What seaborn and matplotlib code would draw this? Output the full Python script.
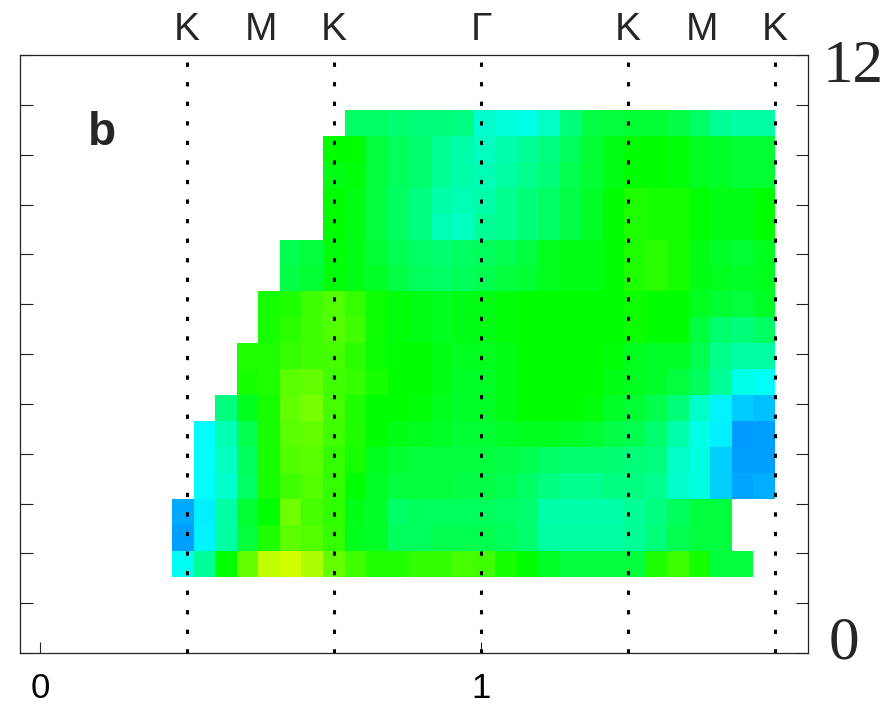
import numpy as np
import pandas as pd
import seaborn as sns
import matplotlib
matplotlib.use('Agg')
import matplotlib.pyplot as plt
from matplotlib.colors import LinearSegmentedColormap
from matplotlib.transforms import Affine2D

nan = np.nan

# intensity per cell, one list per energy row (top row first), 28 k-columns
row17 = [nan]*8 + [1.61, 1.61, 1.57, 1.53, 1.53, 1.49, 1.2, 1.14, 1.1, 1.22, 1.53, 1.73, 1.76, 1.8, 1.8, 1.73, 1.61, 1.41, 1.37, 1.37]
row16 = [nan]*7 + [2.0, 2.0, 1.76, 1.65, 1.57, 1.41, 1.33, 1.25, 1.33, 1.41, 1.49, 1.65, 1.8, 1.92, 2.0, 2.0, 1.96, 1.88, 1.84, 1.8, 1.8]
row15 = [nan]*7 + [1.92, 1.96, 1.76, 1.65, 1.57, 1.41, 1.33, 1.29, 1.37, 1.45, 1.53, 1.69, 1.8, 1.92, 2.0, 2.0, 1.96, 1.88, 1.84, 1.8, 1.8]
row14 = [nan]*7 + [2.0, 1.92, 1.76, 1.61, 1.49, 1.33, 1.29, 1.33, 1.45, 1.53, 1.61, 1.73, 1.84, 2.0, 2.12, 2.08, 2.08, 2.0, 1.92, 1.92, 2.0]
row13 = [nan]*7 + [2.0, 1.92, 1.76, 1.61, 1.49, 1.29, 1.25, 1.41, 1.45, 1.53, 1.61, 1.73, 1.84, 2.0, 2.12, 2.08, 2.08, 2.0, 1.92, 1.92, 2.0]
row12 = [nan]*5 + [1.69, 1.76, 1.96, 1.92, 1.8, 1.69, 1.61, 1.57, 1.61, 1.65, 1.69, 1.76, 1.88, 1.92, 1.92, 2.0, 2.12, 2.16, 2.08, 1.92, 1.84, 1.8, 1.88]
row11 = [nan]*5 + [1.73, 1.8, 1.96, 1.92, 1.84, 1.73, 1.65, 1.61, 1.65, 1.69, 1.76, 1.8, 1.88, 1.92, 1.92, 2.0, 2.12, 2.16, 2.08, 1.92, 1.88, 1.84, 1.88]
row10 = [nan]*4 + [2.08, 2.12, 2.24, 2.31, 2.2, 2.04, 1.96, 1.92, 1.88, 1.92, 1.92, 1.96, 2.0, 2.0, 2.0, 2.0, 2.0, 2.04, 2.0, 2.0, 1.88, 1.8, 1.76, 1.84]
row9 = [nan]*4 + [2.08, 2.16, 2.24, 2.31, 2.24, 2.04, 1.96, 1.92, 1.88, 1.92, 1.92, 1.96, 2.0, 2.0, 2.0, 2.0, 2.0, 2.04, 2.0, 2.0, 1.76, 1.57, 1.53, 1.61]
row8 = [nan]*3 + [2.12, 2.12, 2.2, 2.24, 2.27, 2.16, 2.04, 2.0, 2.0, 1.92, 1.88, 1.88, 1.92, 2.0, 2.0, 2.0, 2.0, 1.96, 1.88, 1.84, 1.84, 1.69, 1.45, 1.37, 1.37]
row7 = [nan]*3 + [2.08, 2.12, 2.35, 2.39, 2.24, 2.2, 2.08, 2.0, 2.0, 1.92, 1.84, 1.84, 1.92, 2.0, 2.0, 2.0, 2.0, 1.92, 1.88, 1.84, 1.76, 1.65, 1.41, 1.1, 1.02]
row6 = [nan]*2 + [1.49, 1.88, 2.08, 2.39, 2.47, 2.27, 2.12, 2.0, 2.0, 1.96, 1.88, 1.84, 1.84, 1.92, 2.0, 2.0, 2.0, 1.96, 1.84, 1.8, 1.69, 1.53, 1.22, 0.95, 0.8, 0.75]
row5 = [nan] + [1.0, 1.3, 1.69, 2.08, 2.35, 2.39, 2.24, 2.12, 2.0, 1.92, 1.88, 1.84, 1.8, 1.8, 1.84, 1.88, 1.88, 1.84, 1.8, 1.73, 1.69, 1.57, 1.33, 1.1, 0.94, 0.6, 0.63]
row4 = [nan] + [1.0, 1.25, 1.65, 2.08, 2.31, 2.35, 2.2, 2.08, 1.88, 1.8, 1.76, 1.76, 1.76, 1.76, 1.73, 1.69, 1.61, 1.57, 1.57, 1.55, 1.53, 1.49, 1.22, 1.12, 0.82, 0.63, 0.63]
row3 = [nan] + [1.0, 1.2, 1.61, 2.08, 2.24, 2.31, 2.2, 2.0, 1.84, 1.76, 1.76, 1.76, 1.73, 1.73, 1.69, 1.61, 1.49, 1.45, 1.45, 1.49, 1.49, 1.45, 1.2, 1.12, 0.82, 0.65, 0.68]
row2 = [0.67, 0.94, 1.35, 1.8, 2.0, 2.43, 2.27, 2.18, 1.9, 1.84, 1.6, 1.65, 1.65, 1.65, 1.65, 1.61, 1.57, 1.33, 1.33, 1.33, 1.33, 1.41, 1.49, 1.65, 1.76, 1.76] + [nan]*2
row1 = [0.63, 0.96, 1.37, 1.76, 2.12, 2.35, 2.31, 2.2, 1.88, 1.84, 1.65, 1.65, 1.69, 1.69, 1.69, 1.65, 1.57, 1.37, 1.37, 1.37, 1.37, 1.41, 1.53, 1.69, 1.76, 1.76] + [nan]*2
row0 = [1.05, 1.41, 2.0, 2.39, 2.75, 2.82, 2.67, 2.39, 2.24, 2.12, 2.12, 2.2, 2.2, 2.27, 2.24, 2.08, 2.0, 1.84, 1.76, 1.76, 1.76, 1.76, 2.1, 2.24, 2.08, 1.76, 1.76] + [nan]

# grid extent in data units (k along path, energy)
k_first, k_last = 0.3, 5 / 3
e_low, e_high = 1.53, 10.9

# symmetry points along the path
kpt_labels = ['K', 'M', 'K', 'Γ', 'K', 'M', 'K']
kpt_pos = [1 / 3, 1 / 2, 2 / 3, 1.0, 4 / 3, 3 / 2, 5 / 3]
kline_pos = [1 / 3, 2 / 3, 1.0, 4 / 3, 5 / 3]

rows = [row17, row16, row15, row14, row13, row12, row11, row10, row9,
        row8, row7, row6, row5, row4, row3, row2, row1, row0]
grid = pd.DataFrame(np.array(rows, dtype=float))
n_e, n_k = grid.shape
dk = (k_last - k_first) / n_k
de = (e_high - e_low) / n_e

sns.set_style('white')
plt.rcParams['font.family'] = ['Liberation Sans Narrow', 'Liberation Sans', 'DejaVu Sans']

cmap = LinearSegmentedColormap.from_list('rainbow', ['#0000ff', '#00ffff', '#00ff00', '#ffff00'])

fig = plt.figure(figsize=(8.96, 7.08), dpi=100)
ax = fig.add_axes([20 / 896, 55 / 708, 788 / 896, 598 / 708])

sns.heatmap(grid, ax=ax, cmap=cmap, vmin=0, vmax=3, cbar=False,
            xticklabels=False, yticklabels=False)
# put the heatmap cells onto the k / energy data axes
mesh = ax.collections[0]
mesh.set_transform(Affine2D().scale(dk, -de).translate(k_first, e_high) + ax.transData)

ax.set_xlim(-20 / 441, 768 / 441)
ax.set_ylim(0, 12)

for s in ax.spines.values():
    s.set_visible(True)
    s.set_color('#222222')
    s.set_linewidth(0.9)

for pos in kline_pos:
    ax.axvline(pos, color='black', linestyle=(0, (1.4, 5.0)), linewidth=2.2, zorder=5)

ax.set_xticks([0, 1], ['0', '1'])
ax.tick_params(axis='x', direction='in', length=8, width=0.8, pad=14,
               labelsize=25, bottom=True, top=False, colors='#222222', labelcolor='black')
ax.set_yticks(np.arange(0, 13))
ax.tick_params(axis='y', direction='in', length=9, width=0.8, left=True, right=True,
               labelleft=False, labelright=False, colors='#222222')

xtrans = ax.get_xaxis_transform()
for lab, pos in zip(kpt_labels, kpt_pos):
    ax.text(pos, 1.042, lab, transform=xtrans, ha='center', va='center', fontsize=28)

ax.text(1.018, 11.75, '12', transform=ax.get_yaxis_transform(), ha='left', va='center',
        fontsize=44, family=['Liberation Serif', 'DejaVu Serif'])
ax.text(1.026, 0.18, '0', transform=ax.get_yaxis_transform(), ha='left', va='center',
        fontsize=44, family=['Liberation Serif', 'DejaVu Serif'])

ax.text(62 / 441, (653 - 133) / 49.83, 'b', ha='center', va='center', fontsize=33,
        fontweight='bold', family=['Liberation Sans', 'DejaVu Sans'])

fig.savefig('out.png', dpi=100)
